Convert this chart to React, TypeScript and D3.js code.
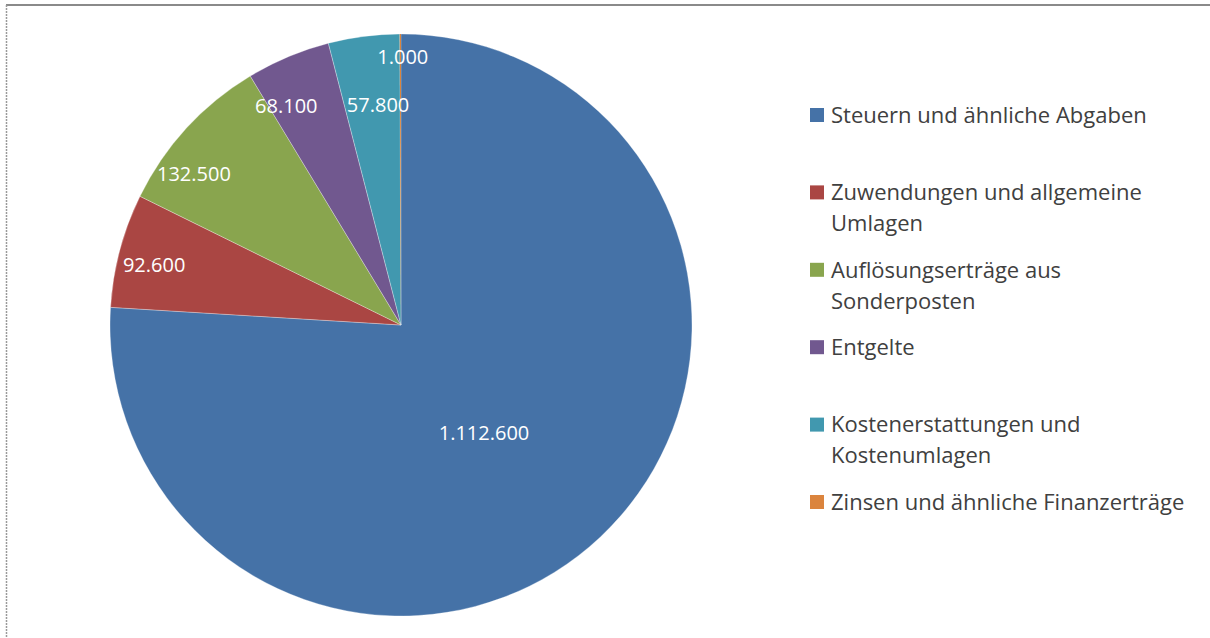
import React from "react";
import * as d3 from "d3";

const categories = [
  "Steuern und ähnliche Abgaben",
  "Zuwendungen und allgemeine Umlagen",
  "Auflösungserträge aus Sonderposten",
  "Entgelte",
  "Kostenerstattungen und Kostenumlagen",
  "Zinsen und ähnliche Finanzerträge",
];
const legendLines = [
  ["Steuern und ähnliche Abgaben"],
  ["Zuwendungen und allgemeine", "Umlagen"],
  ["Auflösungserträge aus", "Sonderposten"],
  ["Entgelte"],
  ["Kostenerstattungen und", "Kostenumlagen"],
  ["Zinsen und ähnliche Finanzerträge"],
];
const values = [1112.6, 92.6, 132.5, 68.1, 57.8, 1.0];
const valueLabels = ["1.112.600", "92.600", "132.500", "68.100", "57.800", "1.000"];
const colors = ["#4572A7", "#AA4643", "#89A54E", "#71588F", "#4198AF", "#DB843D"];
// label placement: radius fraction and angular shift (deg), like Excel "best fit"
const labelRadius = [0.468, 0.873, 0.88, 0.85, 0.76, 0.92];
const labelShift = [5.7, -1.2, -6.5, -4.8, 1.4, 0.5];

export default function App() {
  const W = 1210, H = 638;
  const cx = 401, cy = 325, R = 291;
  const pie = d3.pie<number>().sort(null).value((d) => d).startAngle(0).endAngle(2 * Math.PI);
  const arcs = pie(values);
  const arc = d3.arc<d3.PieArcDatum<number>>().innerRadius(0).outerRadius(R);
  const font = "'Open Sans', 'Noto Sans', sans-serif";
  const legendX = 810, legendY0 = 115, legendStep = 77.4, lineH = 31;
  return (
    <div style={{ position: "absolute", left: 0, top: 0 }}>
      <svg width={W} height={H} style={{ display: "block" }}>
        <rect x={0} y={0} width={W} height={H} fill="#fff" />
        <line x1={6} x2={W} y1={5} y2={5} stroke="#8a8a8a" strokeWidth={2} />
        <line x1={6.5} x2={6.5} y1={5} y2={H} stroke="#9a9a9a" strokeWidth={1.5} strokeDasharray="2 1" />
        <g transform={`translate(${cx},${cy})`}>
          {arcs.map((a, i) => (
            <path key={i} d={arc(a) || ""} fill={colors[i]} stroke="#ffffff" strokeOpacity={0.5} strokeWidth={i === 5 ? 0 : 0.6} />
          ))}
          {arcs.map((a, i) => {
            const mid = (a.startAngle + a.endAngle) / 2 + (labelShift[i] * Math.PI) / 180;
            const r = R * labelRadius[i];
            const x = r * Math.sin(mid);
            const y = -r * Math.cos(mid);
            return (
              <text key={i} x={x} y={y} dy="0.35em" textAnchor="middle" fill="#ffffff" fontFamily={font} fontSize={20}>
                {valueLabels[i]}
              </text>
            );
          })}
        </g>
        <g>
          {categories.map((c, i) => {
            const y = legendY0 + i * legendStep;
            return (
              <g key={c}>
                <rect x={legendX} y={y - 7} width={14} height={14} fill={colors[i]} />
                {legendLines[i].map((ln, j) => (
                  <text key={j} x={legendX + 21} y={y + j * lineH} dy="0.35em" fill="#404040" fontFamily={font} fontSize={22}>
                    {ln}
                  </text>
                ))}
              </g>
            );
          })}
        </g>
      </svg>
    </div>
  );
}
